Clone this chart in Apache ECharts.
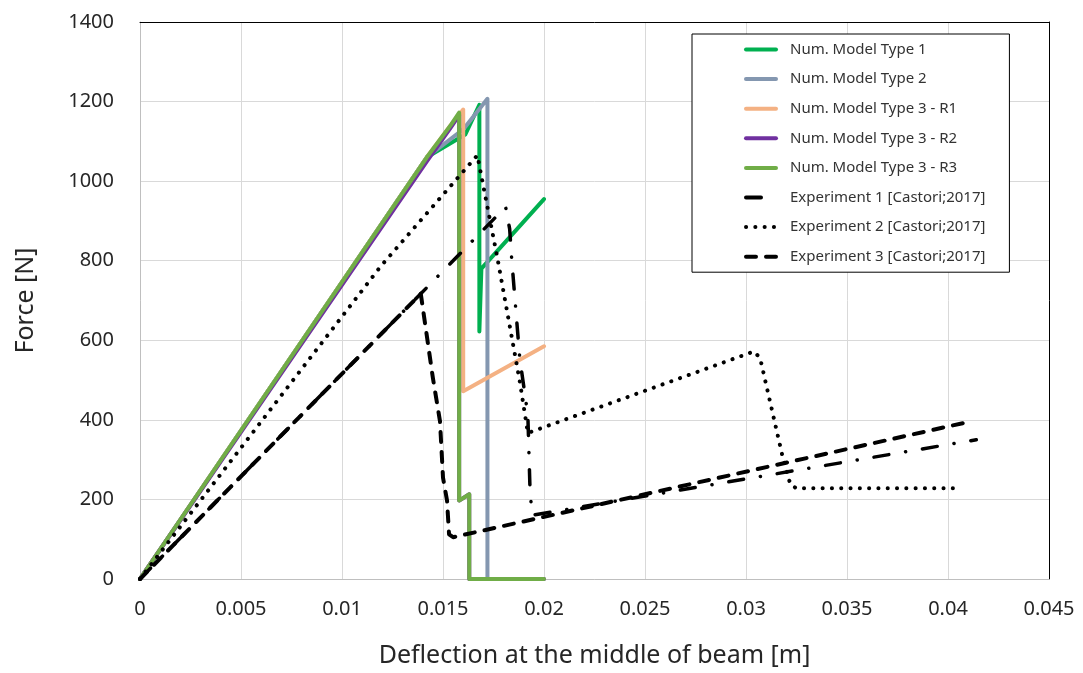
<!DOCTYPE html>
<html>
<head>
<meta charset="utf-8">
<script src="https://cdn.jsdelivr.net/npm/echarts@6/dist/echarts.min.js"></script>
<style>
html,body{margin:0;padding:0;background:#fff;}
#chart{width:1083px;height:673px;}
</style>
</head>
<body>
<div id="chart"></div>
<script>
// ---- data: [deflection (m), force (N)] ----
const seriesNames = [
  'Num. Model Type 1',
  'Num. Model Type 2',
  'Num. Model Type 3 - R1',
  'Num. Model Type 3 - R2',
  'Num. Model Type 3 - R3',
  'Experiment 1 [Castori;2017]',
  'Experiment 2 [Castori;2017]',
  'Experiment 3 [Castori;2017]'
];
const type1 = [[0,0],[0.0142,1060],[0.0161,1117],[0.0168,1192],[0.0168,622],[0.0169,780],[0.0200,955]];
const type2 = [[0,0],[0.0142,1060],[0.0160,1130],[0.0172,1207],[0.0172,0]];
const type3R1 = [[0,0],[0.0142,1060],[0.0154,1142],[0.0160,1180],[0.0160,472],[0.0200,585]];
const type3R2 = [[0,0],[0.0142,1050],[0.0154,1136],[0.0158,1166],[0.0158,197],[0.0163,213],[0.0163,0],[0.0200,0]];
const type3R3 = [[0,0],[0.0142,1060],[0.0154,1142],[0.0158,1172],[0.0158,197],[0.0163,213],[0.0163,0],[0.0200,0]];
const exp1 = [[0,0],[0.0139,717],[0.0181,935],[0.0183,880],[0.0184,805],[0.0188,555],[0.0192,412],[0.0193,238],[0.0194,160],[0.0414,350]];
const exp2 = [[0,0],[0.0119,785],[0.0167,1065],[0.0177,805],[0.0188,497],[0.0192,367],[0.0304,572],[0.0307,555],[0.0318,310],[0.0322,237],[0.0325,228],[0.0404,228]];
const exp3 = [[0,0],[0.0139,717],[0.0145,505],[0.01485,397],[0.0150,255],[0.0152,197],[0.0153,112],[0.0155,105],[0.0412,397]];

const xTicks = {min:0, max:0.045, interval:0.005};
const yTicks = {min:0, max:1400, interval:200};

const allData = [type1, type2, type3R1, type3R2, type3R3, exp1, exp2, exp3];
const colors = ['#00b050','#8497b0','#f4b183','#7030a0','#70ad47','#000000','#000000','#000000'];
const dashTypes = ['solid','solid','solid','solid','solid',[15,17,0.1,17],[0.1,9.2],[10,10]];
const widths = [4,4,4,4,4,3.5,4,4];

const FONT = '"Noto Sans", sans-serif';
const chart = echarts.init(document.getElementById('chart'), null, {renderer:'canvas'});

const series = allData.map((d,i)=>({
  name: seriesNames[i],
  type: 'line',
  data: d,
  showSymbol: false,
  symbol: 'none',
  smooth: false,
  xAxisIndex: 0,
  yAxisIndex: 0,
  color: colors[i],
  lineStyle: {color: colors[i], width: widths[i], type: dashTypes[i], cap: 'round', join: 'round'},
  itemStyle: {color: colors[i]},
  emphasis: {disabled: true},
  z: 2 + i
}));

chart.setOption({
  animation: false,
  backgroundColor: '#ffffff',
  grid: {left:140, right:1083-1049, top:22, bottom:673-582, containLabel:false},
  legend: {
    data: seriesNames,
    orient: 'vertical',
    left: 692,
    top: 34,
    padding: [8, 24, 8, 52],
    itemWidth: 30,
    itemHeight: 14,
    itemGap: 14.6,
    backgroundColor: '#ffffff',
    borderColor: '#000000',
    borderWidth: 1,
    itemStyle: {opacity: 0},
    lineStyle: {width: 4},
    textStyle: {fontFamily: FONT, fontSize: 15, color: '#333333', padding:[0,0,0,9]},
    selectedMode: false
  },
  xAxis: [{
    type: 'value',
    min: xTicks.min, max: xTicks.max, interval: xTicks.interval,
    name: 'Deflection at the middle of beam [m]',
    nameLocation: 'middle',
    nameGap: 64,
    nameTextStyle: {fontFamily: FONT, fontSize: 25, color: '#262626'},
    axisLine: {show: true, lineStyle: {color: '#bfbfbf', width: 1}},
    axisTick: {show: false},
    axisLabel: {fontFamily: FONT, fontSize: 20, color: '#262626', margin: 20,
      formatter: v => String(+v.toFixed(3))},
    splitLine: {show: true, lineStyle: {color: '#d9d9d9', width: 1}}
  },{
    type: 'value', position: 'top',
    min: xTicks.min, max: xTicks.max, interval: xTicks.interval,
    axisLine: {show: true, onZero: false, lineStyle: {color: '#000000', width: 1}},
    axisTick: {show: false}, axisLabel: {show: false}, splitLine: {show: false}
  }],
  yAxis: [{
    type: 'value',
    min: yTicks.min, max: yTicks.max, interval: yTicks.interval,
    name: 'Force [N]',
    nameLocation: 'middle',
    nameGap: 102,
    nameTextStyle: {fontFamily: FONT, fontSize: 25, color: '#262626'},
    axisLine: {show: true, lineStyle: {color: '#bfbfbf', width: 1}},
    axisTick: {show: false},
    axisLabel: {fontFamily: FONT, fontSize: 20, color: '#262626', margin: 26,
      formatter: v => String(v)},
    splitLine: {show: true, lineStyle: {color: '#d9d9d9', width: 1}}
  },{
    type: 'value', position: 'right',
    min: yTicks.min, max: yTicks.max, interval: yTicks.interval,
    axisLine: {show: true, onZero: false, lineStyle: {color: '#000000', width: 1}},
    axisTick: {show: false}, axisLabel: {show: false}, splitLine: {show: false}
  }],
  series: series
});
</script>
</body>
</html>
